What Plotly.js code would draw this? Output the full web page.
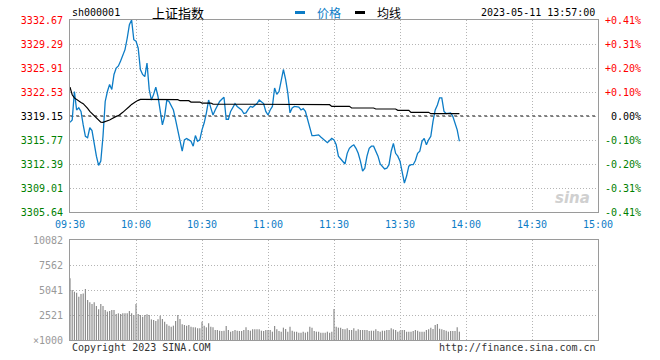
<!DOCTYPE html>
<html>
<head>
<meta charset="utf-8">
<script src="https://cdn.plot.ly/plotly-3.0.1.min.js"></script>
<style>html,body{margin:0;padding:0;background:#fff;}#chart{width:660px;height:360px;}</style>
</head>
<body>
<div id="chart"></div>
<script>
// ---- data ----
const symbol = 'sh000001';
const indexName = '上证指数';
const stamp = '2023-05-11 13:57:00';
const prevClose = 3319.15;
const timeTickMinutes = [0, 30, 60, 90, 120, 150, 180, 210, 240];
const timeTickLabels = ['09:30', '10:00', '10:30', '11:00', '11:30', '13:30', '14:00', '14:30', '15:00'];
const priceTickLabels = ['3332.67', '3329.29', '3325.91', '3322.53', '3319.15', '3315.77', '3312.39', '3309.01', '3305.64'];
const pctTickLabels = ['+0.41%', '+0.31%', '+0.20%', '+0.10%', '0.00%', '-0.10%', '-0.20%', '-0.31%', '-0.41%'];
const volTickValues = [0, 2521, 5041, 7562, 10082];
const volTickLabels = ['×1000', '2521', '5041', '7562', '10082'];

const price = [
3318.26, 3318.6, 3322.6, 3320.0, 3320.3, 3319.8, 3317.9, 3316.3, 3316.1, 3317.5,
3317.1, 3315.1, 3313.5, 3312.2, 3312.8, 3316.3, 3321.2, 3322.6, 3323.6, 3322.9,
3325.0, 3325.9, 3326.2, 3326.9, 3327.6, 3328.5, 3330.1, 3332.0, 3332.67, 3329.9,
3329.7, 3328.7, 3325.7, 3325.0, 3324.7, 3326.6, 3322.9, 3321.4, 3322.2, 3323.2,
3321.9, 3319.6, 3317.9, 3319.1, 3321.4, 3321.2, 3320.5, 3320.0, 3318.6, 3317.2,
3315.6, 3314.2, 3315.8, 3316.0, 3315.8, 3315.6, 3314.9, 3316.4, 3315.6, 3315.8,
3317.2, 3318.2, 3319.6, 3321.4, 3320.3, 3319.3, 3320.0, 3320.7, 3321.2, 3321.5,
3321.8, 3318.7, 3318.7, 3319.8, 3320.4, 3320.9, 3320.5, 3320.3, 3320.0, 3319.5,
3319.6, 3320.1, 3320.5, 3320.4, 3320.7, 3320.9, 3321.4, 3321.2, 3320.9, 3319.8,
3319.3, 3320.0, 3320.5, 3323.1, 3322.2, 3322.6, 3324.3, 3325.7, 3324.3, 3322.4,
3319.6, 3320.3, 3320.5, 3320.5, 3320.4, 3320.0, 3320.2, 3319.8, 3318.6, 3317.7,
3316.4, 3316.4, 3316.4, 3316.5, 3316.2, 3315.9, 3315.7, 3315.4, 3315.7, 3316.0,
3315.8, 3315.1, 3313.5, 3313.1, 3312.8, 3312.4, 3313.9, 3314.6, 3314.9, 3315.1,
3314.6, 3313.9, 3312.8, 3311.4, 3311.8, 3313.5, 3314.6, 3314.9, 3314.9, 3314.2,
3313.5, 3312.4, 3311.97, 3311.7, 3311.8, 3312.3, 3314.2, 3315.3, 3313.9, 3313.5,
3312.8, 3311.1, 3309.7, 3310.7, 3312.1, 3312.3, 3312.3, 3312.9, 3313.9, 3314.2,
3315.6, 3316.0, 3315.1, 3315.8, 3316.3, 3318.4, 3320.0, 3320.7, 3321.7, 3321.7,
3319.8, 3319.5, 3319.6, 3319.6, 3319.1, 3318.2, 3317.2, 3315.6
];

const avgPrice = [
3323.23, 3322.15, 3321.7, 3321.45, 3321.26, 3321.07, 3320.89, 3320.6, 3320.23, 3319.8,
3319.48, 3319.15, 3318.82, 3318.54, 3318.3, 3318.26, 3318.35, 3318.45, 3318.59, 3318.77,
3318.96, 3319.1, 3319.2, 3319.38, 3319.67, 3319.95, 3320.18, 3320.5, 3320.79, 3321.03,
3321.2, 3321.36, 3321.5, 3321.5, 3321.5, 3321.5, 3321.5, 3321.5, 3321.5, 3321.5,
3321.5, 3321.5, 3321.5, 3321.5, 3321.5, 3321.45, 3321.45, 3321.45, 3321.45, 3321.45,
3321.31, 3321.31, 3321.31, 3321.31, 3321.31, 3321.12, 3321.12, 3321.12, 3321.12, 3321.12,
3320.98, 3320.98, 3320.98, 3320.98, 3320.98, 3320.84, 3320.84, 3320.84, 3320.84, 3320.84,
3320.75, 3320.75, 3320.75, 3320.75, 3320.75, 3320.75, 3320.75, 3320.75, 3320.75, 3320.75,
3320.75, 3320.75, 3320.75, 3320.75, 3320.75, 3320.75, 3320.75, 3320.75, 3320.75, 3320.75,
3320.75, 3320.75, 3320.75, 3320.75, 3320.75, 3320.75, 3320.75, 3320.75, 3320.75, 3320.75,
3320.84, 3320.84, 3320.84, 3320.84, 3320.84, 3320.84, 3320.84, 3320.84, 3320.84, 3320.84,
3320.75, 3320.75, 3320.75, 3320.75, 3320.75, 3320.75, 3320.75, 3320.75, 3320.75, 3320.51,
3320.51, 3320.51, 3320.51, 3320.51, 3320.51, 3320.51, 3320.51, 3320.51, 3320.28, 3320.28,
3320.28, 3320.28, 3320.28, 3320.28, 3320.28, 3320.28, 3320.28, 3320.28, 3320.28, 3320.14,
3320.14, 3320.14, 3320.14, 3320.14, 3320.14, 3320.14, 3320.14, 3320.14, 3320.14, 3319.95,
3319.95, 3319.95, 3319.95, 3319.95, 3319.95, 3319.67, 3319.67, 3319.67, 3319.67, 3319.67,
3319.67, 3319.67, 3319.67, 3319.67, 3319.48, 3319.48, 3319.48, 3319.48, 3319.48, 3319.48,
3319.48, 3319.48, 3319.48, 3319.48, 3319.48, 3319.48, 3319.48, 3319.48
];

const volume = [
6220, 5040, 4870, 4770, 4370, 4640, 4700, 5140, 4030, 3800,
3630, 3800, 3430, 3090, 3630, 3430, 3020, 2860, 2920, 3020,
3020, 2620, 2690, 2620, 2690, 2690, 2690, 2920, 2690, 2520,
3630, 2620, 2520, 2350, 2520, 2590, 2520, 2080, 2020, 1915,
2080, 2450, 2120, 1850, 1580, 1445, 1345, 1445, 1915, 2520,
2120, 1580, 1510, 1445, 1510, 1345, 1275, 1275, 1175, 1175,
1850, 1445, 1275, 1680, 1345, 1275, 1010, 1010, 940, 910,
940, 1410, 1010, 840, 910, 1010, 940, 910, 910, 1010,
1275, 1010, 940, 1075, 1075, 1075, 1075, 940, 910, 1010,
1010, 1010, 840, 1410, 1075, 910, 840, 1245, 1110, 840,
1345, 940, 840, 840, 740, 740, 840, 740, 840, 1345,
1245, 910, 840, 840, 740, 740, 740, 840, 740, 840,
3125, 1345, 1245, 1245, 1110, 1075, 1175, 1010, 1010, 1175,
940, 1075, 1010, 1010, 1010, 1010, 910, 940, 940, 1075,
910, 840, 940, 940, 1010, 1010, 1175, 1075, 1010, 840,
940, 1010, 1010, 840, 840, 840, 910, 1010, 940, 840,
840, 840, 1010, 1075, 1245, 1110, 1510, 1615, 1140, 1075,
1010, 940, 840, 910, 910, 910, 1275, 840
];

// ---- build ----
const minutes = price.map((_, i) => i);
const priceTickVals = priceTickLabels.map(Number);
const RED = '#ff0000', GREEN = '#008000', BLACK = '#000000';
function colorFor(v) { return v > prevClose + 1e-6 ? RED : (v < prevClose - 1e-6 ? GREEN : BLACK); }
const leftText = priceTickLabels.map(t => '<span style="color:' + colorFor(Number(t)) + '">' + t + '</span>');
const rightText = pctTickLabels.map((t, i) => '<span style="color:' + colorFor(priceTickVals[i]) + '">' + (t.length < 6 ? '\u00a0' + t : t) + '</span>');

const MONO = 'DejaVu Sans Mono, Liberation Mono, monospace';
const BLUE = '#0c7cc6';
const GRID = '#b4b4b4';
const FRAME = '#9a9a9a';

const traces = [
  { x: minutes, y: price, type: 'scatter', mode: 'lines', xaxis: 'x', yaxis: 'y',
    line: { color: BLUE, width: 1.3 }, hoverinfo: 'skip', showlegend: false },
  { x: minutes, y: avgPrice, type: 'scatter', mode: 'lines', xaxis: 'x', yaxis: 'y',
    line: { color: '#000', width: 1.2 }, hoverinfo: 'skip', showlegend: false },
  { x: minutes, y: price, type: 'scatter', mode: 'lines', xaxis: 'x', yaxis: 'y2',
    line: { width: 0 }, opacity: 0, hoverinfo: 'skip', showlegend: false },
  { x: minutes, y: volume, type: 'bar', xaxis: 'x2', yaxis: 'y3',
    marker: { color: '#8e8e8e', line: { width: 0 } }, hoverinfo: 'skip', showlegend: false }
];

const pxX = px => (px - 70) / 528;
const pxY = py => (340 - py) / 320;

const layout = {
  width: 660, height: 360,
  margin: { l: 70, r: 62, t: 20, b: 20, pad: 0 },
  paper_bgcolor: '#fff', plot_bgcolor: '#fff',
  showlegend: false,
  bargap: 0.45,
  font: { family: MONO, size: 10, color: '#000' },
  xaxis: {
    domain: [0, 1], anchor: 'y', range: [0, 240], tickmode: 'array',
    tickvals: timeTickMinutes, ticktext: timeTickLabels,
    tickfont: { family: MONO, size: 10, color: BLUE },
    ticks: 'outside', ticklen: 3, tickcolor: 'rgba(0,0,0,0)',
    showgrid: true, gridcolor: GRID, griddash: '1px,2px', gridwidth: 1,
    showline: true, mirror: true, linecolor: FRAME, linewidth: 1, zeroline: false, fixedrange: true
  },
  yaxis: {
    domain: [0.4, 1], anchor: 'x', range: [priceTickVals[priceTickVals.length - 1], priceTickVals[0]],
    tickmode: 'array', tickvals: priceTickVals, ticktext: leftText,
    tickfont: { family: MONO, size: 10 },
    ticks: 'outside', ticklen: 4, tickcolor: 'rgba(0,0,0,0)',
    showgrid: true, gridcolor: GRID, griddash: '1px,2px', gridwidth: 1,
    showline: true, mirror: true, linecolor: FRAME, linewidth: 1, zeroline: false, fixedrange: true
  },
  yaxis2: {
    overlaying: 'y', side: 'right', anchor: 'x',
    range: [priceTickVals[priceTickVals.length - 1], priceTickVals[0]],
    tickmode: 'array', tickvals: priceTickVals, ticktext: rightText,
    tickfont: { family: MONO, size: 10 },
    ticks: 'outside', ticklen: 4, tickcolor: 'rgba(0,0,0,0)',
    showgrid: false, showline: false, zeroline: false, fixedrange: true
  },
  xaxis2: {
    domain: [0, 1], anchor: 'y3', range: [0, 240], tickmode: 'array',
    tickvals: timeTickMinutes, showticklabels: false, ticks: '',
    showgrid: true, gridcolor: GRID, griddash: '1px,2px', gridwidth: 1,
    showline: true, mirror: true, linecolor: FRAME, linewidth: 1, zeroline: false, fixedrange: true
  },
  yaxis3: {
    domain: [0, 0.3125], anchor: 'x2', range: [0, volTickValues[volTickValues.length - 1]],
    tickmode: 'array', tickvals: volTickValues, ticktext: volTickLabels,
    tickfont: { family: MONO, size: 10, color: '#999' },
    ticks: 'outside', ticklen: 4, tickcolor: 'rgba(0,0,0,0)',
    showgrid: true, gridcolor: GRID, griddash: '1px,2px', gridwidth: 1,
    showline: true, mirror: true, linecolor: FRAME, linewidth: 1, zeroline: false, fixedrange: true
  },
  shapes: [
    { type: 'line', xref: 'x', yref: 'y', x0: 0, x1: 240, y0: prevClose, y1: prevClose,
      line: { color: '#000', width: 1, dash: '3px,3px' }, layer: 'below' },
    { type: 'rect', xref: 'paper', yref: 'paper', x0: pxX(295), x1: pxX(305), y0: pxY(14), y1: pxY(11),
      fillcolor: BLUE, line: { width: 0 } },
    { type: 'rect', xref: 'paper', yref: 'paper', x0: pxX(355), x1: pxX(365), y0: pxY(14), y1: pxY(11),
      fillcolor: '#000', line: { width: 0 } }
  ],
  annotations: [
    { xref: 'paper', yref: 'paper', x: pxX(70), y: pxY(13), xanchor: 'left', yanchor: 'middle',
      text: symbol, showarrow: false, font: { family: MONO, size: 10, color: '#000' } },
    { xref: 'paper', yref: 'paper', x: pxX(150), y: pxY(13), xanchor: 'left', yanchor: 'middle',
      text: indexName, showarrow: false, font: { family: 'Noto Sans CJK SC', size: 13, color: '#000' } },
    { xref: 'paper', yref: 'paper', x: pxX(315), y: pxY(13), xanchor: 'left', yanchor: 'middle',
      text: '价格', showarrow: false, font: { family: 'Noto Sans CJK SC', size: 12, color: BLUE } },
    { xref: 'paper', yref: 'paper', x: pxX(375), y: pxY(13), xanchor: 'left', yanchor: 'middle',
      text: '均线', showarrow: false, font: { family: 'Noto Sans CJK SC', size: 12, color: '#000' } },
    { xref: 'paper', yref: 'paper', x: pxX(597), y: pxY(13), xanchor: 'right', yanchor: 'middle',
      text: stamp, showarrow: false, font: { family: MONO, size: 10, color: '#000' } },
    { xref: 'paper', yref: 'paper', x: pxX(70), y: pxY(347), xanchor: 'left', yanchor: 'middle',
      text: 'Copyright 2023 SINA.COM', showarrow: false, font: { family: MONO, size: 10, color: '#333' } },
    { xref: 'paper', yref: 'paper', x: pxX(598), y: pxY(347), xanchor: 'right', yanchor: 'middle',
      text: 'http://finance.sina.com.cn', showarrow: false, font: { family: MONO, size: 10, color: '#333' } },
    { xref: 'paper', yref: 'paper', x: pxX(592), y: pxY(198), xanchor: 'right', yanchor: 'middle',
      text: '<b><i>sina</i></b>', showarrow: false, font: { family: 'DejaVu Sans', size: 15, color: '#d0d0d0' } }
  ]
};

Plotly.newPlot('chart', traces, layout, { staticPlot: true, displayModeBar: false });
</script>
</body>
</html>
